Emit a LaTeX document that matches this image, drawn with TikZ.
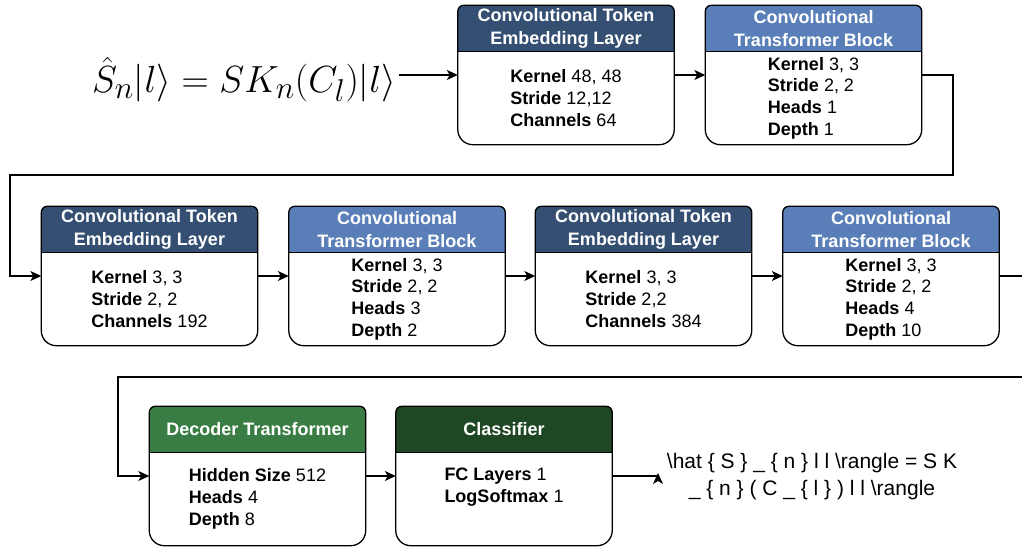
\documentclass[tikz,border=0pt]{standalone}
\usepackage{fontspec}
\setmainfont{Liberation Sans}
\usetikzlibrary{arrows.meta,calc}

\definecolor{ctedark}{HTML}{344F72}
\definecolor{ctblight}{HTML}{5A7FB8}
\definecolor{decgreen}{HTML}{3A7D44}
\definecolor{clsgreen}{HTML}{1F4724}

% one block: name, position, header colour, title, body
\newcommand{\layer}[5]{%
  \node[box] (#1) at (#2) {};
  \fill[#3, rounded corners=6pt] (#1.north west) rectangle ($(#1.north east)+(0,-46)$);
  \fill[#3] ($(#1.north west)+(0,-46)$) rectangle ($(#1.north east)+(0,-20)$);
  \draw[outline] ($(#1.north west)+(0,-46)$) -- ($(#1.north east)+(0,-46)$);
  \draw[outline] (#1.north) [rounded corners=6pt] -| (#1.east) [rounded corners=15pt] |- (#1.south)
     -| (#1.west) [rounded corners=6pt] |- (#1.north);
  \node[hdrtext] (#1-title) at ($(#1.north)+(0,-23)$) {#4};
  \node[bodytext] (#1-body) at ($(#1.center)+(0,-23)$) {#5};
}

\begin{document}
\begin{tikzpicture}[x=1pt,y=1pt,
    box/.style={minimum width=216pt, minimum height=139pt, inner sep=0pt},
    outline/.style={line width=1.3pt},
    hdrtext/.style={text=white, align=center, font=\fontsize{18}{23}\selectfont\bfseries},
    bodytext/.style={align=left, font=\fontsize{18}{21.7}\selectfont},
    arr/.style={line width=1.2pt, -{Stealth[length=11pt,width=10pt,inset=3pt]}},
    line/.style={line width=1.2pt}]
    \useasboundingbox (0,0) rectangle (1022,548);
    \clip (0,0) rectangle (1022,548);

    \node[font=\fontsize{24.88}{30}\selectfont, scale=1.52, transform shape, inner sep=2pt, anchor=base] (ket) at (244,455)
        {$\hat{S}_n|l\rangle = SK_n(C_l)|l\rangle$};

    \layer{cte1}{566,473}{ctedark}{Convolutional Token\\Embedding Layer}
        {\textbf{Kernel} 48, 48\\\textbf{Stride} 12,12\\\textbf{Channels} 64}
    \layer{ctb1}{813.5,473}{ctblight}{Convolutional\\Transformer Block}
        {\textbf{Kernel} 3, 3\\\textbf{Stride} 2, 2\\\textbf{Heads} 1\\\textbf{Depth} 1}
    \layer{cte2}{149.5,272}{ctedark}{Convolutional Token\\Embedding Layer}
        {\textbf{Kernel} 3, 3\\\textbf{Stride} 2, 2\\\textbf{Channels} 192}
    \layer{ctb2}{397,272}{ctblight}{Convolutional\\Transformer Block}
        {\textbf{Kernel} 3, 3\\\textbf{Stride} 2, 2\\\textbf{Heads} 3\\\textbf{Depth} 2}
    \layer{cte3}{643.5,272}{ctedark}{Convolutional Token\\Embedding Layer}
        {\textbf{Kernel} 3, 3\\\textbf{Stride} 2,2\\\textbf{Channels} 384}
    \layer{ctb3}{891,272}{ctblight}{Convolutional\\Transformer Block}
        {\textbf{Kernel} 3, 3\\\textbf{Stride} 2, 2\\\textbf{Heads} 4\\\textbf{Depth} 10}
    \layer{dec}{257.5,72}{decgreen}{Decoder Transformer}
        {\textbf{Hidden Size} 512\\\textbf{Heads} 4\\\textbf{Depth} 8}
    \layer{cls}{504,72}{clsgreen}{Classifier}
        {\textbf{FC Layers} 1\\\textbf{LogSoftmax} 1\\\strut}

    \node[align=center, font=\fontsize{21}{27}\selectfont] (rawtex) at (812,71.5)
        {\textbackslash hat \{ S \} \_ \{ n \} l l \textbackslash rangle = S K\\
         \_ \{ n \} ( C \_ \{ l \} ) l l \textbackslash rangle};

    % bends between the rows
    \coordinate (r1) at (953,373);
    \coordinate (l1) at (10,373);
    \coordinate (r2) at (1035,171);
    \coordinate (l2) at (118,171);
    \coordinate (tip) at (658,72);

    \draw[arr] (ket.east |- cte1.west) -- (cte1.west);
    \draw[arr] (cte1.east) -- (ctb1.west);
    \draw[arr] (ctb1.east) -| (r1) -- (l1) |- (cte2.west);
    \draw[arr] (cte2.east) -- (ctb2.west);
    \draw[arr] (ctb2.east) -- (cte3.west);
    \draw[arr] (cte3.east) -- (ctb3.west);
    \draw[arr] (ctb3.east) -| (r2) -- (l2) |- (dec.west);
    \draw[arr] (dec.east) -- (cls.west);
    \draw[line] (cls.east) -- (tip);
    \draw[arr] (tip) -- ++(0,3);
\end{tikzpicture}
\end{document}
